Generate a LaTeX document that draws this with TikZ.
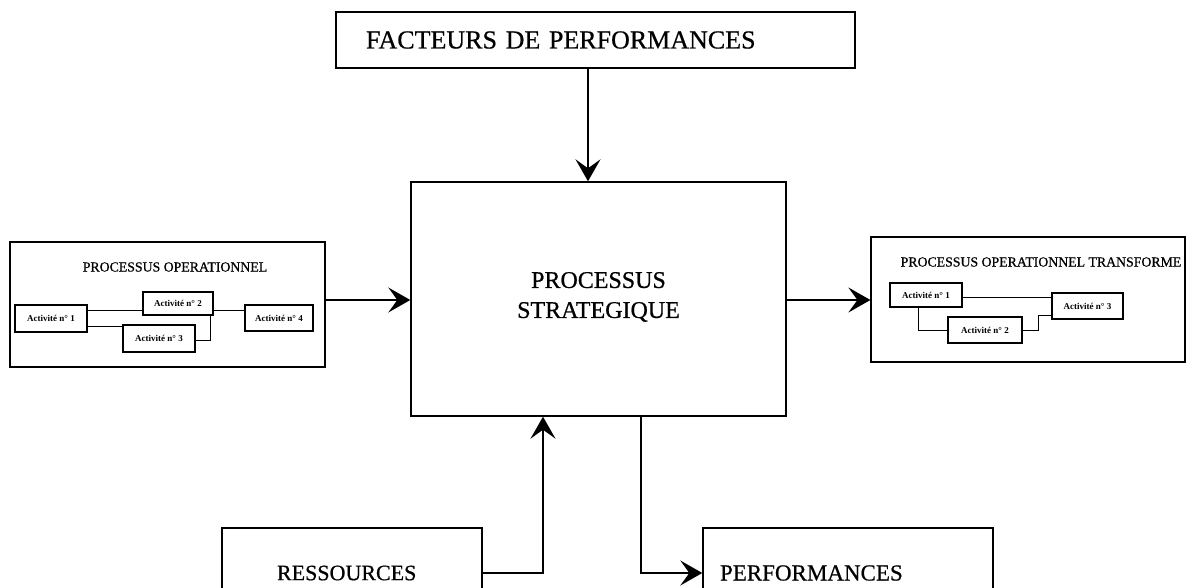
\documentclass[tikz,border=0pt]{standalone}
\usepackage{fontspec}
\setmainfont{Liberation Serif}
\newfontfamily\heavyserif[FakeBold=0.6]{Liberation Serif}
\usetikzlibrary{arrows.meta}
\tikzset{
  bigbox/.style={draw, line width=1.4pt, inner sep=0pt, fill=white},
  outerbox/.style={draw, line width=1.2pt, inner sep=0pt},
  actbox/.style={draw, line width=1.1pt, inner sep=0pt, font=\bfseries\fontsize{9}{10}\selectfont},
  link/.style={line width=0.8pt},
  arr/.style={line width=1.4pt, -{Stealth[length=22pt,width=25pt,inset=9pt]}},
  ttl/.style={inner sep=0pt, font=\heavyserif\fontsize{13.8}{16}\selectfont}
}
\begin{document}
\begin{tikzpicture}[x=1pt,y=-1pt]
\useasboundingbox (0,0) rectangle (1194,588);
\clip (0,0) rectangle (1194,588);
\fill[white] (0,0) rectangle (1194,588);

% main boxes
\node[bigbox, minimum height=56pt, text width=459pt, inner xsep=30pt, align=left,
      font=\heavyserif\fontsize{26}{30}\selectfont] (fact) at (595.5,40) {FACTEURS DE PERFORMANCES};
\node[bigbox, minimum width=375pt, minimum height=234pt, align=center,
      font=\heavyserif\fontsize{24}{30}\selectfont] (main) at (598.5,299) {PROCESSUS\\STRATEGIQUE\\[-22pt]};
\node[bigbox, minimum height=90pt, text width=150pt, inner xsep=55pt, align=left,
      font=\heavyserif\fontsize{22}{26}\selectfont] (res) at (352,573) {RESSOURCES};
\node[bigbox, minimum height=90pt, text width=256pt, inner xsep=17pt, align=left,
      font=\heavyserif\fontsize{23}{26}\selectfont] (perf) at (848,573) {PERFORMANCES};

% left operational process
\node[outerbox, minimum width=315pt, minimum height=125pt] (opl) at (167.5,304.5) {};
\node[ttl] (oplt) at (175,267) {PROCESSUS OPERATIONNEL};
\node[actbox, minimum width=72pt, minimum height=27pt] (l1) at (51,318.5) {Activité n° 1};
\node[actbox, minimum width=70pt, minimum height=23pt] (l2) at (178,303.5) {Activité n° 2};
\node[actbox, minimum width=72pt, minimum height=27pt] (l3) at (159,338.5) {Activité n° 3};
\node[actbox, minimum width=68pt, minimum height=26pt] (l4) at (279,318) {Activité n° 4};
\draw[link] (l1.east |- 0,310) -- (l2.west |- 0,310);
\draw[link] (l1.east |- 0,326) -- (l3.west |- 0,326);
\draw[link] (l2.east |- 0,310) -- (l4.west |- 0,310);
\draw[link] (l2.south -| 210,0) |- (l3.east |- 0,340);

% right transformed process
\node[outerbox, minimum width=314pt, minimum height=125pt] (opr) at (1028,299.5) {};
\node[ttl] (oprt) at (1041,262) {PROCESSUS OPERATIONNEL TRANSFORME};
\node[actbox, minimum width=72pt, minimum height=24pt] (r1) at (926,295) {Activité n° 1};
\node[actbox, minimum width=74pt, minimum height=26pt] (r2) at (985,330) {Activité n° 2};
\node[actbox, minimum width=71pt, minimum height=26pt] (r3) at (1087.5,306) {Activité n° 3};
\draw[link] (r1.east |- 0,297) -- (r3.west |- 0,297);
\draw[link] (r1.south -| 918,0) |- (r2.west);
\draw[link] (r2.east) -| (1038,315) -- (r3.west |- 0,315);

% arrows
\draw[arr] (fact.south -| 588,0) -- (main.north -| 588,0);
\draw[arr] (opl.east |- 0,300) -- (main.west |- 0,300);
\draw[arr] (main.east |- 0,300) -- (opr.west |- 0,300);
\draw[arr] (res.east |- 0,573) -| (main.south -| 543,0);
\draw[arr] (main.south -| 641,0) |- (perf.west |- 0,573);
\end{tikzpicture}
\end{document}
